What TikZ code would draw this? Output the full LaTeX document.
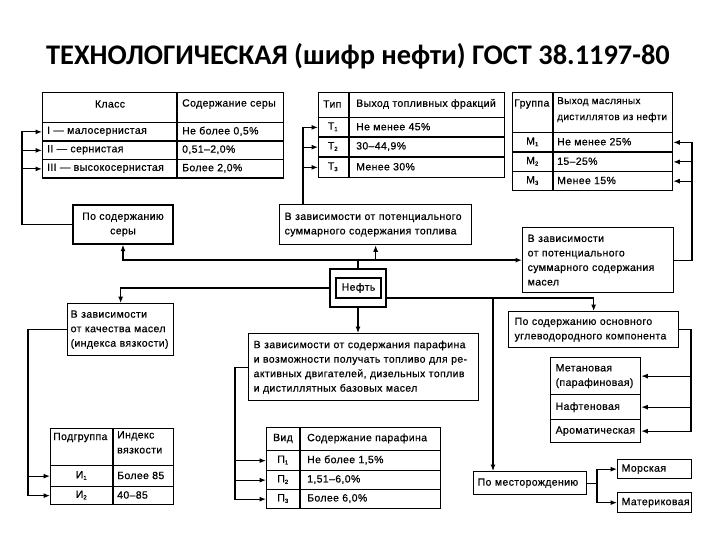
\documentclass[tikz,border=0pt]{standalone}
\usepackage{fontspec}
\setmainfont{Liberation Sans}[LetterSpace=3.5, FakeBold=0.6]
\newfontfamily\titlefont{Carlito}
\usetikzlibrary{arrows.meta,calc}
\newcommand\subidx[1]{\textsubscript{\fontsize{6}{6}\selectfont #1}}
\begin{document}
\begin{tikzpicture}[x=1pt,y=-1pt,
  every node/.style={font=\fontsize{10.5}{14.5}\selectfont},
  ln/.style={line width=1.1pt},
  thk/.style={line width=1.6pt},
  arr/.style={ln,-{Latex[length=6.5pt,width=5pt]}},
  box/.style={draw, line width=1.3pt, inner ysep=0pt},
  lbox/.style={box, anchor=north west, align=left},
  row/.style={draw, line width=1.3pt, anchor=north west, inner sep=0pt},
  txt/.style={anchor=west, inner sep=0pt, align=left},
  txtc/.style={inner sep=0pt, align=center},
]
\useasboundingbox (0,0) rectangle (720,540);

\node[font=\titlefont\bfseries\fontsize{28.4}{32}\selectfont] (title) at (358,56) {ТЕХНОЛОГИЧЕСКАЯ (шифр нефти) ГОСТ 38.1197-80};

% ---------- Table S (sulfur)
\node[row, minimum width=241, minimum height=30] (s0) at (42,92) {};
\node[row, minimum width=241, minimum height=18.5] (s1) at (42,122) {};
\node[row, minimum width=241, minimum height=18.5] (s2) at (42,140.5) {};
\node[row, minimum width=241, minimum height=18.5] (s3) at (42,159) {};
\draw[row] (177,92) -- (177,177.5);
\node[txtc] (s0a) at (110,104) {Класс};
\node[txt] (s0b) at (182,104) {Содержание серы};
\node[txt] (s1a) at (47,131.25) {I — малосернистая};
\node[txt] (s1b) at (182,131.25) {Не более 0,5\%};
\node[txt] (s2a) at (47,149.75) {II — сернистая};
\node[txt] (s2b) at (182,149.75) {0,51–2,0\%};
\node[txt] (s3a) at (47,168.25) {III — высокосернистая};
\node[txt] (s3b) at (182,168.25) {Более 2,0\%};

% ---------- Table T (fuel)
\node[row, minimum width=186, minimum height=25] (t0) at (318,92) {};
\node[row, minimum width=186, minimum height=19.5] (t1) at (318,117) {};
\node[row, minimum width=186, minimum height=20] (t2) at (318,136.5) {};
\node[row, minimum width=186, minimum height=20.5] (t3) at (318,156.5) {};
\draw[row] (349,92) -- (349,177);
\node[txt] (t0a) at (323,104) {Тип};
\node[txt] (t0b) at (356,104) {Выход топливных фракций};
\node[txtc] (t1a) at (333,126.75) {Т\subidx{1}};
\node[txt] (t1b) at (356,126.75) {Не менее 45\%};
\node[txtc] (t2a) at (333,146.5) {Т\subidx{2}};
\node[txt] (t2b) at (356,146.5) {30–44,9\%};
\node[txtc] (t3a) at (333,166.75) {Т\subidx{3}};
\node[txt] (t3b) at (356,166.75) {Менее 30\%};

% ---------- Table M (oils)
\node[row, minimum width=160, minimum height=40] (m0) at (512,92) {};
\node[row, minimum width=160, minimum height=19.5] (m1) at (512,132) {};
\node[row, minimum width=160, minimum height=19.5] (m2) at (512,151.5) {};
\node[row, minimum width=160, minimum height=19] (m3) at (512,171) {};
\draw[row] (553,92) -- (553,190);
\node[txt] (m0a) at (514,104) {Группа};
\node[anchor=north west, inner sep=0pt, align=left, font=\fontsize{10}{16}\selectfont] (m0b) at (557,97) {Выход масляных\\дистиллятов из нефти};
\node[txtc] (m1a) at (532.5,141.75) {М\subidx{1}};
\node[txt] (m1b) at (557,141.75) {Не менее 25\%};
\node[txtc] (m2a) at (532.5,161.25) {М\subidx{2}};
\node[txt] (m2b) at (557,161.25) {15–25\%};
\node[txtc] (m3a) at (532.5,180.5) {М\subidx{3}};
\node[txt] (m3b) at (557,180.5) {Менее 15\%};

% ---------- boxes
\node[box, minimum width=100, minimum height=39, align=center] (ser) at (123,224.5) {По содержанию\\серы};
\node[lbox, minimum height=40, text width=182, inner xsep=5pt] (top) at (279,204) {В зависимости от потенциального\\суммарного содержания топлива};
\node[lbox, minimum height=65, text width=141, inner xsep=5pt] (masel) at (522,227) {В зависимости\\от потенциального\\суммарного содержания\\масел};
\node[box, minimum width=56, minimum height=38] (neftO) at (358,288) {};
\node[box, minimum width=45, minimum height=20, inner xsep=0pt] (neft) at (358.5,288) {Нефть};
\node[lbox, minimum height=52, text width=100, inner xsep=3pt] (kach) at (67,303) {В зависимости\\от качества масел\\(индекса вязкости)};
\node[lbox, minimum height=67, text width=220, inner xsep=5pt] (par) at (248,333) {В зависимости от содержания парафина\\и возможности получать топливо для ре-\\активных двигателей, дизельных топлив\\и дистиллятных базовых масел};
\node[lbox, minimum height=36, text width=158, inner xsep=6pt] (uvk) at (508,311) {По содержанию основного\\углеводородного компонента};
\node[lbox, minimum height=37, text width=80, inner xsep=5pt] (met) at (550,357) {Метановая\\(парафиновая)};
\node[lbox, minimum height=25, text width=80, inner xsep=5pt] (naf) at (550,394) {Нафтеновая};
\node[lbox, minimum height=23, text width=80, inner xsep=5pt] (aro) at (550,419) {Ароматическая};
\node[lbox, minimum height=23, text width=105, inner xsep=4pt] (mest) at (473,471) {По месторождению};
\node[lbox, minimum height=19, text width=66, inner xsep=4pt] (mor) at (617,459) {Морская};
\node[lbox, minimum height=20, text width=66, inner xsep=4pt] (mat) at (617,492) {Материковая};

% ---------- Table P (paraffin)
\node[row, minimum width=174, minimum height=23] (p0) at (266,427) {};
\node[row, minimum width=174, minimum height=20] (p1) at (266,450) {};
\node[row, minimum width=174, minimum height=19] (p2) at (266,470) {};
\node[row, minimum width=174, minimum height=19] (p3) at (266,489) {};
\draw[row] (300,427) -- (300,508);
\node[txtc] (p0a) at (283,438.5) {Вид};
\node[txt] (p0b) at (307,438.5) {Содержание парафина};
\node[txtc] (p1a) at (283,460) {П\subidx{1}};
\node[txt] (p1b) at (307,460) {Не более 1,5\%};
\node[txtc] (p2a) at (283,479.5) {П\subidx{2}};
\node[txt] (p2b) at (307,479.5) {1,51–6,0\%};
\node[txtc] (p3a) at (283,498.5) {П\subidx{3}};
\node[txt] (p3b) at (307,498.5) {Более 6,0\%};

% ---------- Table I (viscosity)
\node[row, minimum width=123, minimum height=37] (i0) at (50,428) {};
\node[row, minimum width=123, minimum height=21] (i1) at (50,465) {};
\node[row, minimum width=123, minimum height=18] (i2) at (50,486) {};
\draw[row] (113,428) -- (113,504);
\node[txt] (i0a) at (53,437.5) {Подгруппа};
\node[anchor=north west, inner sep=0pt, align=left, font=\fontsize{10.5}{15}\selectfont] (i0b) at (117,431) {Индекс\\вязкости};
\node[txtc] (i1a) at (81.5,475.5) {И\subidx{1}};
\node[txt] (i1b) at (117,475.5) {Более 85};
\node[txtc] (i2a) at (81.5,495) {И\subidx{2}};
\node[txt] (i2b) at (117,495) {40–85};

% ---------- connectors
\coordinate (j1) at (neftO.north |- masel.west);
\draw[thk] (neftO.north) -- (j1);
\draw[arr, thk] (j1) -| (ser.south);
\draw[arr, thk] (j1) -- (masel.west);
\draw[arr] (j1 -| top.south) -- (top.south);
\draw[arr] (neftO.west) -| (kach.north);
\coordinate (n1) at ([yshift=-10pt]neftO.east);
\draw[arr] (n1) -| (uvk.north);
\coordinate (mx) at (493,0);
\draw[arr] (n1 -| mx) -- (mx |- mest.north);
\draw[arr] (neftO.south) -- (neftO.south |- par.north);

% sulfur table
\coordinate (sx) at (22,0);
\draw[arr] (ser.west) -| (sx |- s1.west) -- (s1.west);
\draw[arr] (sx |- s2.west) -- (s2.west);
\draw[arr] (sx |- s3.west) -- (s3.west);
% fuel table
\coordinate (tx) at (303,0);
\draw[arr] (top.north -| tx) |- (t1.west);
\draw[arr] (tx |- t2.west) -- (t2.west);
\draw[arr] (tx |- t3.west) -- (t3.west);
% oil table
\coordinate (mxr) at (692,0);
\draw[arr] (masel.east) -| (mxr |- m1.east) -- (m1.east);
\draw[arr] (mxr |- m2.east) -- (m2.east);
\draw[arr] (mxr |- m3.east) -- (m3.east);
% viscosity
\coordinate (ix) at (28,0);
\draw[arr] (kach.west) -| (ix |- i2.west) -- (i2.west);
\draw[arr] (ix |- i1.west) -- (i1.west);
% paraffin
\coordinate (px) at (235,0);
\draw[arr] (par.west) -| (px |- p3.west) -- (p3.west);
\draw[arr] (px |- p1.west) -- (p1.west);
\draw[arr] (px |- p2.west) -- (p2.west);
% hydrocarbon types
\coordinate (ux) at (691,0);
\draw[arr] (uvk.east) -| (ux |- aro.east) -- (aro.east);
\draw[arr] (ux |- met.east) -- (met.east);
\draw[arr] (ux |- naf.east) -- (naf.east);
% deposit
\coordinate (dj) at (597,0);
\draw[ln] (mest.east) -- (dj |- mest.east);
\draw[arr] (dj |- mest.east) |- (mor.west);
\draw[arr] (dj |- mest.east) |- (mat.west);
\end{tikzpicture}
\end{document}
